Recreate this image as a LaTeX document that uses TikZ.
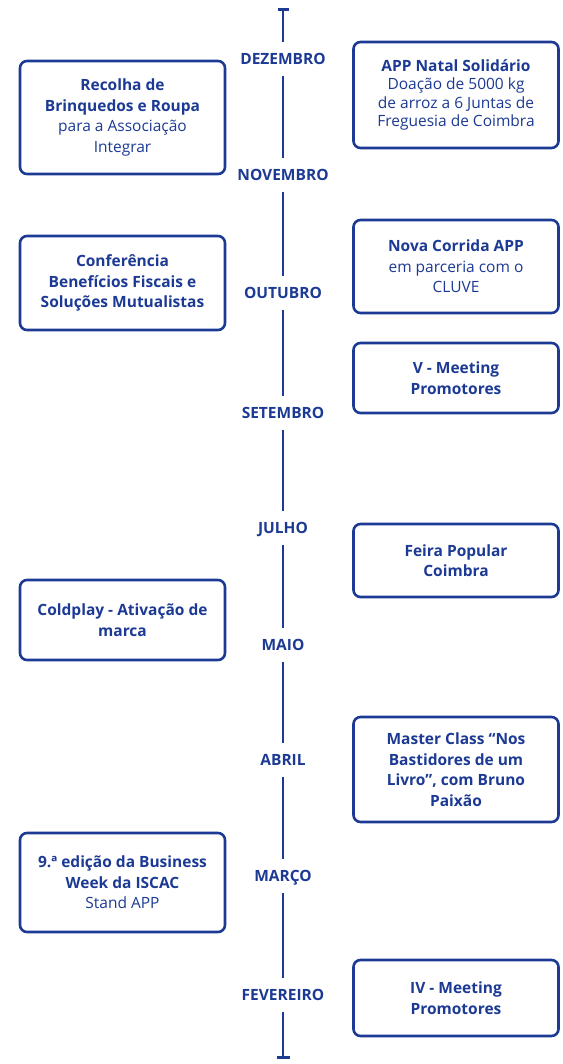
\documentclass[tikz,border=0pt]{standalone}
\usepackage{fontspec}
\setmainfont{Open Sans}
\usepackage{tikz}
\usetikzlibrary{
  positioning,
  arrows.meta
}
\definecolor{appblue}{HTML}{1C3A94}
\newcommand{\semib}{\bfseries}

\begin{document}
\begin{tikzpicture}[
  x=1pt, y=1pt,
  event/.style={draw=appblue, line width=2.6pt, rounded corners=7pt, minimum width=205pt,
                align=center, text=appblue, inner sep=4pt, font=\fontsize{15.5}{20.5}\selectfont},
  month/.style={text=appblue, font=\bfseries\fontsize{15.5}{18}\selectfont,
                minimum height=33pt, text height=11pt, text depth=0pt, inner sep=0pt},
  axis/.style={draw=appblue, line width=2.7pt}
]
  \useasboundingbox (0,0) rectangle (562,-1064);

  % Months
  \coordinate (top) at (283,-8);
  \node[month] (dez) at (283,-59) {DEZEMBRO};
  \node[month] (nov) at (283,-175) {NOVEMBRO};
  \node[month] (out) at (283,-293) {OUTUBRO};
  \node[month] (set) at (283,-413) {SETEMBRO};
  \node[month] (jul) at (283,-528) {JULHO};
  \node[month] (mai) at (283,-645) {MAIO};
  \node[month] (abr) at (283,-760) {ABRIL};
  \node[month] (mar) at (283,-876) {MARÇO};
  \node[month] (fev) at (283,-995) {FEVEREIRO};
  \coordinate (bot) at (283,-1059);

  \draw[axis, {Bar[width=11pt]}-] (top) -- (dez);
  \draw[axis] (dez) -- (nov);
  \draw[axis] (nov) -- (out);
  \draw[axis] (out) -- (set);
  \draw[axis] (set) -- (jul);
  \draw[axis] (jul) -- (mai);
  \draw[axis] (mai) -- (abr);
  \draw[axis] (abr) -- (mar);
  \draw[axis] (mar) -- (fev);
  \draw[axis, -{Bar[width=13pt]}] (fev) -- (bot);

  % Left events
  \node[event, minimum height=113pt] (recolha) at (122.5,-117.5) {
    {\semib Recolha de}\\
    {\semib Brinquedos e Roupa}\\
    para a Associação\\
    Integrar
  };

  \node[event, minimum height=94pt] (conferencia) at (122.5,-283) {
    {\semib Conferência}\\
    {\semib Benefícios Fiscais e}\\
    {\semib Soluções Mutualistas}
  };

  \node[event, minimum height=80pt] (coldplay) at (122.5,-620) {
    {\semib Coldplay - Ativação de}\\
    {\semib marca}
  };

  \node[event, minimum height=99pt] (business) at (122.5,-882.5) {
    {\semib 9.ª edição da Business}\\
    {\semib Week da ISCAC}\\
    Stand APP
  };

  % Right events
  \node[event, minimum height=106pt, font=\fontsize{15.5}{18.5}\selectfont] (natal) at (456,-95) {
    {\semib APP Natal Solidário}\\
    Doação de 5000 kg\\
    de arroz a 6 Juntas de\\
    Freguesia de Coimbra
  };

  \node[event, minimum height=93pt] (corrida) at (456,-266.5) {
    {\semib Nova Corrida APP}\\
    em parceria com o\\
    CLUVE
  };

  \node[event, minimum height=70pt] (meetingv) at (456,-378) {
    {\semib V - Meeting}\\
    {\semib Promotores}
  };

  \node[event, minimum height=73pt] (feira) at (456,-560.5) {
    {\semib Feira Popular}\\
    {\semib Coimbra}
  };

  \node[event, minimum height=105pt] (masterclass) at (456,-769.5) {
    {\semib Master Class “Nos}\\
    {\semib Bastidores de um}\\
    {\semib Livro”, com Bruno}\\
    {\semib Paixão}
  };

  \node[event, minimum height=76pt] (meetingiv) at (456,-998) {
    {\semib IV - Meeting}\\
    {\semib Promotores}
  };
\end{tikzpicture}
\end{document}
